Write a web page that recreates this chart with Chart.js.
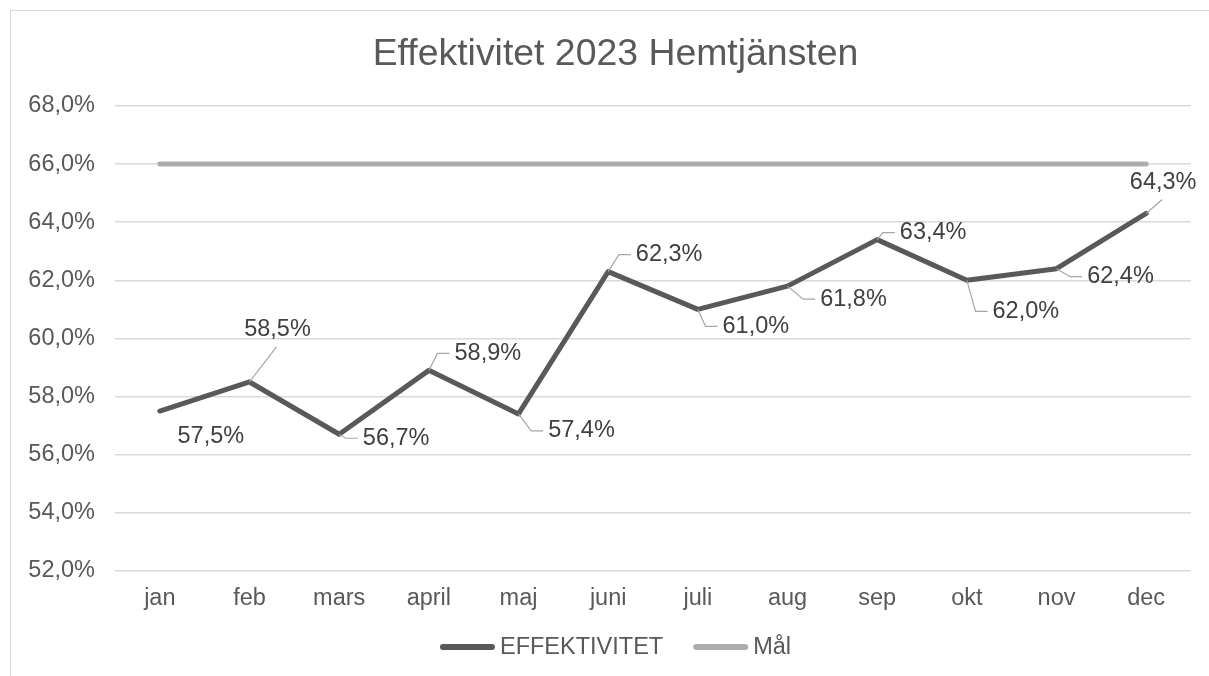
<!DOCTYPE html>
<html>
<head>
<meta charset="utf-8">
<script src="https://cdn.jsdelivr.net/npm/chart.js@4.4.1/dist/chart.umd.min.js"></script>
<style>
    html, body { margin: 0; padding: 0; background: #fff; overflow: hidden; }
    #wrap { position: relative; width: 1232px; height: 690px; }
</style>
</head>
<body>
<div id="wrap"><canvas id="EffChart" width="1232" height="690"></canvas></div>
<script>
const months = ["jan", "feb", "mars", "april", "maj", "juni", "juli", "aug", "sep", "okt", "nov", "dec"];
const effektivitet = [57.5, 58.5, 56.7, 58.9, 57.4, 62.3, 61.0, 61.8, 63.4, 62.0, 62.4, 64.3];
const mal = [66, 66, 66, 66, 66, 66, 66, 66, 66, 66, 66, 66];
const yMin = 52, yMax = 68, yStep = 2;
const chartTitle = "Effektivitet 2023 Hemtjänsten";

function pct(v) {
    return v.toFixed(1).replace(".", ",") + "%";
}

// white background, light frame and the title
const framePlugin = {
    id: "frame",
    beforeDraw(chart) {
        let ctx = chart.ctx;
        ctx.save();
        ctx.fillStyle = "#fff";
        ctx.fillRect(0, 0, chart.width, chart.height);
        ctx.strokeStyle = "#d9d9d9";
        ctx.lineWidth = 1;
        ctx.strokeRect(10.5, 10.5, chart.width + 50, chart.height + 50);
        ctx.restore();
    },
    afterDraw(chart, args, opts) {
        let ctx = chart.ctx;
        ctx.save();
        ctx.font = opts.titleFont;
        ctx.fillStyle = "#595959";
        ctx.textAlign = "center";
        ctx.textBaseline = "alphabetic";
        ctx.fillText(chartTitle, opts.titleX, opts.titleBaseline);
        ctx.restore();
    }
};

// excel-like data labels with leader lines
const labelPlugin = {
    id: "pointLabels",
    afterDatasetsDraw(chart, args, opts) {
        let ctx = chart.ctx;
        let meta = chart.getDatasetMeta(0);
        ctx.save();
        ctx.font = opts.font;
        ctx.textAlign = "center";
        ctx.textBaseline = "middle";
        meta.data.forEach(function (pt, i) {
            let off = opts.offsets[i];
            let cx = pt.x + off[0];
            let cy = pt.y + off[1];
            let text = pct(effektivitet[i]);
            let w = ctx.measureText(text).width;
            if (opts.leader[i]) {
                ctx.strokeStyle = "#a6a6a6";
                ctx.lineWidth = 1.2;
                ctx.beginPath();
                ctx.moveTo(pt.x, pt.y);
                if (Math.abs(off[0]) < w / 2) {
                    let ty = off[1] < 0 ? cy + 17 : cy - 17;
                    ctx.lineTo(cx - 1, ty);
                } else {
                    let left = cx - w / 2;
                    ctx.lineTo(left - 17, cy);
                    ctx.lineTo(left - 5, cy);
                }
                ctx.stroke();
            }
            ctx.fillStyle = "#404040";
            ctx.fillText(text, cx, cy);
        });
        ctx.restore();
    }
};

// legend drawn by hand: long line sample, text right next to it
const legendPlugin = {
    id: "lineLegend",
    afterDraw(chart, args, opts) {
        let ctx = chart.ctx;
        ctx.save();
        ctx.font = opts.font;
        ctx.textBaseline = "middle";
        ctx.textAlign = "left";
        let items = chart.data.datasets.map(function (ds) {
            return { text: ds.label, color: ds.borderColor, w: ctx.measureText(ds.label).width };
        });
        let total = items.reduce(function (s, it) { return s + opts.lineLen + opts.textGap + it.w; }, 0)
            + opts.itemGap * (items.length - 1);
        let x = opts.centerX - total / 2;
        items.forEach(function (it) {
            ctx.strokeStyle = it.color;
            ctx.lineWidth = 6;
            ctx.lineCap = "round";
            ctx.beginPath();
            ctx.moveTo(x + 3, opts.y);
            ctx.lineTo(x + opts.lineLen - 3, opts.y);
            ctx.stroke();
            x += opts.lineLen + opts.textGap;
            ctx.fillStyle = "#595959";
            ctx.fillText(it.text, x, opts.y + 1);
            x += it.w + opts.itemGap;
        });
        ctx.restore();
    }
};

Chart.defaults.font.family = '"Liberation Sans", Arial, sans-serif';
Chart.defaults.color = "#595959";

let ctx = document.getElementById("EffChart").getContext("2d");
let effChart = new Chart(ctx, {
    type: "line",
    data: {
        labels: months,
        datasets: [{
            label: "EFFEKTIVITET",
            data: effektivitet,
            borderColor: "#595959",
            backgroundColor: "#595959",
            borderWidth: 5,
            pointRadius: 0,
            borderCapStyle: "round",
            borderJoinStyle: "round",
            tension: 0
        },
        {
            label: "Mål",
            data: mal,
            borderColor: "#adadad",
            backgroundColor: "#adadad",
            borderWidth: 5,
            pointRadius: 0,
            borderCapStyle: "round",
            tension: 0
        }]
    },
    options: {
        responsive: false,
        animation: false,
        layout: { padding: { top: 106, left: 0, right: 41, bottom: 63 } },
        scales: {
            x: {
                offset: true,
                grid: { display: false, drawTicks: false },
                border: { display: false },
                ticks: { padding: 14, font: { size: 23.5 }, color: "#595959" }
            },
            y: {
                min: yMin,
                max: yMax,
                grid: { color: "#d9d9d9", lineWidth: 1.5, drawTicks: false },
                border: { display: false },
                afterFit: function (scale) { scale.width = 115; },
                ticks: {
                    stepSize: yStep,
                    padding: 20,
                    font: { size: 23.5 },
                    color: "#595959",
                    callback: function (v) { return pct(v); }
                }
            }
        },
        plugins: {
            title: { display: false },
            legend: { display: false },
            tooltip: { enabled: false },
            frame: {
                titleFont: '37.4px "Liberation Sans", Arial, sans-serif',
                titleX: 615.5,
                titleBaseline: 65
            },
            pointLabels: {
                font: '23.5px "Liberation Sans", Arial, sans-serif',
                offsets: [[51, 25], [28, -52], [57, 4], [59, -17], [63, 17], [61, -17], [58, 17], [66, 13], [56, -7], [59, 31], [64, 8], [17, -31]],
                leader: [false, true, true, true, true, true, true, true, true, true, true, true]
            },
            lineLegend: {
                font: '23.5px "Liberation Sans", Arial, sans-serif',
                centerX: 615.5,
                y: 647,
                lineLen: 55,
                textGap: 5,
                itemGap: 30
            }
        }
    },
    plugins: [framePlugin, labelPlugin, legendPlugin]
});
</script>
</body>
</html>
